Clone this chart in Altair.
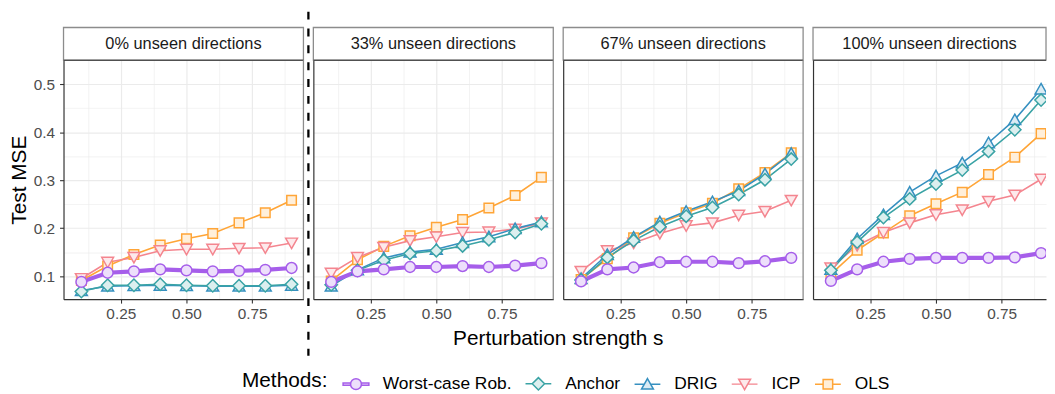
import altair as alt
import pandas as pd

FONT = "Liberation Sans"

s_values = [0.1, 0.2, 0.3, 0.4, 0.5, 0.6, 0.7, 0.8, 0.9]
methods = ["Worst-case Rob.", "Anchor", "DRIG", "ICP", "OLS"]
panels = ["0% unseen directions", "33% unseen directions",
          "67% unseen directions", "100% unseen directions"]

# panel 1: 0% unseen
wc_0 = [0.088, 0.107, 0.110, 0.114, 0.112, 0.110, 0.111, 0.113, 0.117]
anchor_0 = [0.068, 0.081, 0.081, 0.083, 0.081, 0.080, 0.080, 0.080, 0.083]
drig_0 = [0.070, 0.079, 0.080, 0.081, 0.080, 0.079, 0.079, 0.079, 0.081]
icp_0 = [0.095, 0.129, 0.139, 0.153, 0.156, 0.156, 0.158, 0.159, 0.169]
ols_0 = [0.091, 0.121, 0.145, 0.165, 0.178, 0.189, 0.211, 0.232, 0.258]
# panel 2: 33% unseen
wc_33 = [0.088, 0.110, 0.114, 0.119, 0.119, 0.121, 0.119, 0.122, 0.127]
anchor_33 = [0.082, 0.112, 0.133, 0.147, 0.153, 0.163, 0.176, 0.191, 0.209]
drig_33 = [0.079, 0.113, 0.138, 0.150, 0.156, 0.170, 0.182, 0.199, 0.213]
icp_33 = [0.106, 0.139, 0.160, 0.174, 0.182, 0.191, 0.192, 0.198, 0.211]
ols_33 = [0.090, 0.134, 0.162, 0.184, 0.202, 0.218, 0.242, 0.268, 0.306]
# panel 3: 67% unseen
wc_67 = [0.089, 0.114, 0.118, 0.129, 0.130, 0.130, 0.127, 0.131, 0.138]
anchor_67 = [0.092, 0.139, 0.174, 0.203, 0.225, 0.243, 0.270, 0.301, 0.344]
drig_67 = [0.095, 0.145, 0.181, 0.213, 0.235, 0.255, 0.278, 0.313, 0.356]
icp_67 = [0.110, 0.153, 0.169, 0.189, 0.205, 0.211, 0.227, 0.235, 0.258]
ols_67 = [0.093, 0.136, 0.180, 0.210, 0.232, 0.252, 0.282, 0.316, 0.357]
# panel 4: 100% unseen
wc_100 = [0.090, 0.114, 0.130, 0.136, 0.138, 0.138, 0.138, 0.139, 0.148]
anchor_100 = [0.112, 0.171, 0.222, 0.261, 0.292, 0.321, 0.360, 0.405, 0.467]
drig_100 = [0.114, 0.178, 0.228, 0.275, 0.309, 0.336, 0.378, 0.426, 0.490]
icp_100 = [0.117, 0.164, 0.191, 0.211, 0.228, 0.238, 0.256, 0.269, 0.302]
ols_100 = [0.104, 0.154, 0.190, 0.226, 0.251, 0.275, 0.312, 0.348, 0.397]

series = {
    panels[0]: {"OLS": ols_0, "ICP": icp_0, "DRIG": drig_0, "Anchor": anchor_0, "Worst-case Rob.": wc_0},
    panels[1]: {"OLS": ols_33, "ICP": icp_33, "DRIG": drig_33, "Anchor": anchor_33, "Worst-case Rob.": wc_33},
    panels[2]: {"OLS": ols_67, "ICP": icp_67, "DRIG": drig_67, "Anchor": anchor_67, "Worst-case Rob.": wc_67},
    panels[3]: {"OLS": ols_100, "ICP": icp_100, "DRIG": drig_100, "Anchor": anchor_100, "Worst-case Rob.": wc_100},
}
rows = []
for p, d in series.items():
    for m, vals in d.items():
        for s, v in zip(s_values, vals):
            rows.append({"panel": p, "Method": m, "s": s, "MSE": v})
df = pd.DataFrame(rows)

# styles
colors = ["#A65EEA", "#3AA3A5", "#3690C0", "#F4858F", "#FFA537"]
fills = ["#EDDFFB", "#DCEFEF", "#DBEBF4", "#FDE9EB", "#FFEFDA"]
line_widths = [4.2, 1.6, 1.6, 1.6, 1.6]
point_paths = [
    "M-0.42,0A0.42,0.42,0,1,1,0.42,0A0.42,0.42,0,1,1,-0.42,0Z",
    "M0,-0.48L0.48,0L0,0.48L-0.48,0Z",
    "M0,-0.43L0.46,0.38L-0.46,0.38Z",
    "M0,0.43L0.46,-0.38L-0.46,-0.38Z",
    "M-0.37,-0.37H0.37V0.37H-0.37Z",
]
legend_paths = [
    "M-1,-0.09H-0.42V0.09H-1Z M0.42,-0.09H1V0.09H0.42Z " + point_paths[0],
    "M-1,0H-0.48M0.48,0H1 " + point_paths[1],
    "M-1,0H-0.245M0.245,0H1 " + point_paths[2],
    "M-1,0H-0.245M0.245,0H1 " + point_paths[3],
    "M-1,0H-0.37M0.37,0H1 " + point_paths[4],
]

HEIGHT = 241
STRIP = 33
PX_PER_UNIT = 265.0
X0 = 0.032
Y_DOMAIN = [0.052, 0.55]
X_GRID = [0.125, 0.25, 0.375, 0.5, 0.625, 0.75, 0.875]
Y_GRID = [0.1, 0.15, 0.2, 0.25, 0.3, 0.35, 0.4, 0.45, 0.5]
widths = [242, 242, 242, 235]

major_x = "abs(datum.value*4 - round(datum.value*4)) < 0.000001"
major_y = "abs(datum.value*10 - round(datum.value*10)) < 0.000001"


def x_axis(with_title):
    kw = dict(
        values=X_GRID,
        labelExpr=f"{major_x} ? format(datum.value, '.2f') : ''",
        tickColor={"condition": {"test": major_x, "value": "#333333"}, "value": "transparent"},
        tickSize=4, tickWidth=1.1, labelPadding=4,
        labelFontSize=15.5, labelColor="#4d4d4d", labelFont=FONT,
        labelOverlap=False, labelFlush=False,
        domainColor="#333333", domainWidth=1.2,
        gridColor="#ebebeb",
        gridWidth={"condition": {"test": major_x, "value": 1.2}, "value": 0.6},
    )
    if with_title:
        kw.update(title="Perturbation strength s", titleX=246.5, titleY=40,
                  titleBaseline="middle", titleAlign="center",
                  titleFontSize=21, titleFont=FONT, titleFontWeight="normal",
                  titleColor="black")
    else:
        kw.update(title=None)
    return alt.Axis(**kw)


def y_axis(show):
    kw = dict(
        values=Y_GRID,
        domainColor="#333333", domainWidth=1.2,
        gridColor="#ebebeb",
        gridWidth={"condition": {"test": major_y, "value": 1.2}, "value": 0.6},
    )
    if show:
        kw.update(
            labelExpr=f"{major_y} ? format(datum.value, '.1f') : ''",
            tickColor={"condition": {"test": major_y, "value": "#333333"}, "value": "transparent"},
            tickSize=4, tickWidth=1.1, labelPadding=5,
            labelFontSize=15.5, labelColor="#4d4d4d", labelFont=FONT,
            labelOverlap=False, labelFlush=False,
            title="Test MSE", titleFontSize=21, titleFont=FONT,
            titleFontWeight="normal", titleColor="black", titlePadding=4,
        )
    else:
        kw.update(labels=False, ticks=False, title=None)
    return alt.Axis(**kw)


def make_panel(i):
    w = widths[i]
    d = df[df["panel"] == panels[i]]
    base = alt.Chart(d)
    x = alt.X("s:Q", scale=alt.Scale(domain=[X0, X0 + w / PX_PER_UNIT], nice=False, zero=False),
              axis=x_axis(i == 1))
    y = alt.Y("MSE:Q", scale=alt.Scale(domain=Y_DOMAIN, nice=False, zero=False),
              axis=y_axis(i == 0))
    lines = base.mark_line(clip=True).encode(
        x=x, y=y,
        color=alt.Color("Method:N", scale=alt.Scale(domain=methods, range=colors), legend=None),
        strokeWidth=alt.StrokeWidth("Method:N", scale=alt.Scale(type="ordinal", domain=methods,
                                                                range=line_widths), legend=None),
    )
    points = base.mark_point(size=676, strokeWidth=1.5, opacity=1, clip=True).encode(
        x=x, y=y,
        stroke=alt.Stroke("Method:N", scale=alt.Scale(domain=methods, range=colors), legend=None),
        fill=alt.Fill("Method:N", scale=alt.Scale(domain=methods, range=fills), legend=None),
        shape=alt.Shape("Method:N", scale=alt.Scale(domain=methods, range=point_paths), legend=None),
    )
    lab = alt.Chart(pd.DataFrame({"label": [panels[i]]}))
    strip = lab.mark_rect(fill="white", stroke="#8c8c8c", strokeWidth=1.3).encode(
        x=alt.value(0), x2=alt.value(w), y=alt.value(-STRIP), y2=alt.value(0))
    strip_text = lab.mark_text(fontSize=16.5, font=FONT, color="#1a1a1a",
                               align="center", baseline="middle").encode(
        x=alt.value(w / 2), y=alt.value(-STRIP / 2 + 0.5), text="label:N")
    strip_line = lab.mark_rule(color="#333333", strokeWidth=1.2).encode(
        x=alt.value(0), x2=alt.value(w), y=alt.value(0))
    layers = [strip, strip_text, lines, points, strip_line]
    if i < 3:
        right = lab.mark_rule(color="#8c8c8c", strokeWidth=1.3).encode(
            x=alt.value(w), y=alt.value(0), y2=alt.value(HEIGHT))
        layers.append(right)
    if i == 0:
        sep = lab.mark_rule(color="black", strokeWidth=2.3, strokeDash=[8, 9]).encode(
            x=alt.value(w + 5), y=alt.value(-49), y2=alt.value(HEIGHT + 57))
        layers.append(sep)
        leg = alt.Legend(
            orient="none", legendX=180, legendY=312, direction="horizontal",
            title="Methods:", titleOrient="left", titleFontSize=21, titleFont=FONT,
            titleFontWeight="normal", titleColor="black", titlePadding=14,
            titleBaseline="middle", titleAnchor="middle",
            labelFontSize=17.5, labelFont=FONT, labelColor="black",
            labelOffset=13, columnPadding=11, symbolSize=676, symbolStrokeWidth=1.5,
        )
        legend_layer = base.transform_filter("datum.s > 10").mark_point(
            size=676, strokeWidth=1.5, opacity=1).encode(
            x=x, y=y,
            stroke=alt.Stroke("Method:N", scale=alt.Scale(domain=methods, range=colors), legend=leg),
            fill=alt.Fill("Method:N", scale=alt.Scale(domain=methods, range=fills), legend=leg),
            shape=alt.Shape("Method:N", scale=alt.Scale(domain=methods, range=legend_paths), legend=leg),
        )
        layers.append(legend_layer)
    return alt.layer(*layers).resolve_scale(
        stroke="independent", fill="independent", shape="independent"
    ).properties(width=w, height=HEIGHT)


chart = alt.hconcat(*[make_panel(i) for i in range(4)], spacing=10, bounds="flush").properties(
    padding=0
).configure_view(stroke=None)

chart.save("out.html", embed_options={"renderer": "svg", "actions": False})
